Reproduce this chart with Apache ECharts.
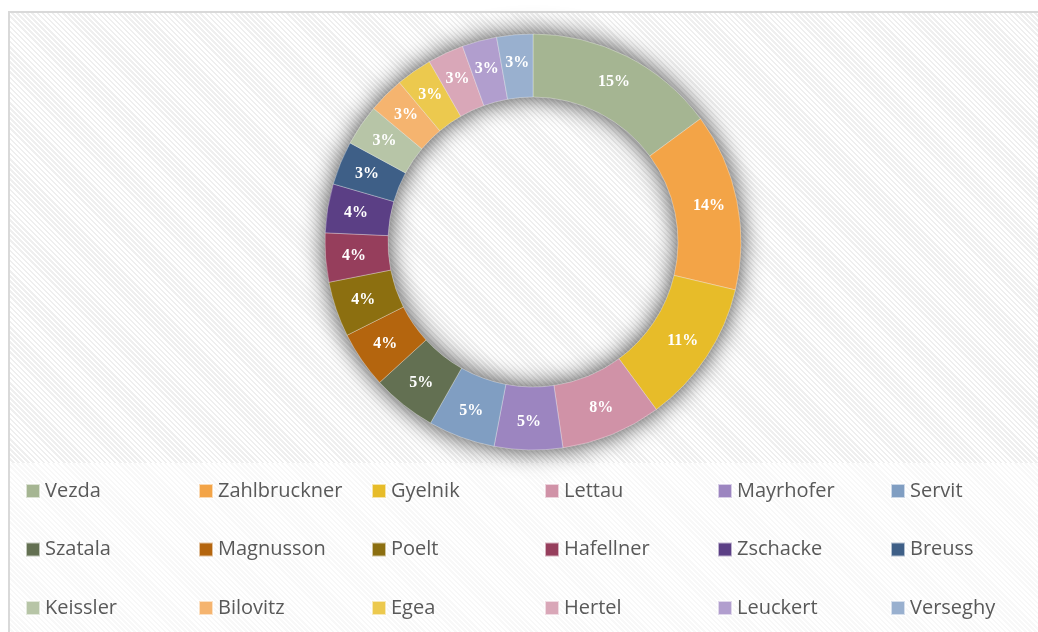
<!DOCTYPE html>
<html lang="en">

<head>
    <meta charset="UTF-8">
    <title>Donut Chart</title>
    <script src="https://cdn.jsdelivr.net/npm/echarts@6/dist/echarts.min.js"></script>
    <style>
        html, body { margin: 0; padding: 0; background: #fff; }
        #wrap { position: relative; width: 1038px; height: 632px; overflow: hidden; }
        #frame {
            position: absolute; left: 8px; top: 11px; width: 1040px; height: 640px;
            border: 2px solid #d9d9d9; box-sizing: border-box;
        }
        #plotBg {
            position: absolute; left: 10px; top: 13px; width: 1030px; height: 450px;
            background: repeating-linear-gradient(45deg, #ffffff 0px, #ffffff 1.8px, #efefef 1.8px, #efefef 3.6px);
        }
        #legendBg {
            position: absolute; left: 10px; top: 463px; width: 1030px; height: 170px;
            background: repeating-linear-gradient(45deg, #ffffff 0px, #ffffff 1.8px, #f8f8f8 1.8px, #f8f8f8 3.6px);
        }
        #chart { position: absolute; left: 0; top: 0; width: 1038px; height: 632px; }
    </style>
</head>

<body>
    <div id="wrap">
        <div id="frame"></div>
        <div id="plotBg"></div>
        <div id="legendBg"></div>
        <div id="chart"></div>
    </div>
    <script>
        // data
        const names = ['Vezda', 'Zahlbruckner', 'Gyelnik', 'Lettau', 'Mayrhofer', 'Servit',
            'Szatala', 'Magnusson', 'Poelt', 'Hafellner', 'Zschacke', 'Breuss',
            'Keissler', 'Bilovitz', 'Egea', 'Hertel', 'Leuckert', 'Verseghy'];
        const values = [14.9, 13.8, 11.2, 7.8, 5.3, 5.2,
            5.0, 4.4, 4.3, 3.8, 3.8, 3.4,
            3.2, 2.8, 2.8, 2.8, 2.7, 2.8];

        const palette = ['#a5b592', '#f3a447', '#e7bc29', '#d092a7', '#9c85c0', '#809ec2',
            '#637052', '#b4650e', '#8c6f10', '#963e5c', '#5b3f85', '#3e5f87',
            '#b7c5a7', '#f5b46f', '#ecc94e', '#d9a7b8', '#b19ece', '#99b0cf'];

        let myChart = echarts.init(document.getElementById('chart'));

        // legend: 6 columns, 3 rows
        let legends = [];
        for (let c = 0; c < 6; c++) {
            legends.push({
                orient: 'vertical',
                left: 25 + c * 173,
                top: 479,
                padding: 0,
                itemWidth: 14,
                itemHeight: 14,
                itemGap: 34.5,
                icon: 'rect',
                selectedMode: false,
                data: [names[c], names[c + 6], names[c + 12]],
                textStyle: {
                    fontFamily: 'Open Sans',
                    fontSize: 20,
                    lineHeight: 24,
                    color: '#595959'
                }
            });
        }

        let total = values.reduce((a, b) => a + b, 0);

        let option = {
            animation: false,
            color: palette,
            legend: legends,
            series: [
                {
                    // soft shadow ring behind the slices
                    type: 'pie',
                    silent: true,
                    center: [533, 242],
                    radius: [145, 208],
                    z: 1,
                    label: { show: false },
                    labelLine: { show: false },
                    emphasis: { disabled: true },
                    data: [{
                        name: 'shadow', value: total,
                        itemStyle: {
                            color: '#aaaaaa',
                            shadowBlur: 24,
                            shadowOffsetX: 0,
                            shadowOffsetY: 0,
                            shadowColor: 'rgba(0,0,0,0.75)'
                        }
                    }]
                },
                {
                    type: 'pie',
                    center: [533, 242],
                    radius: [145, 208],
                    startAngle: 90,
                    clockwise: true,
                    z: 2,
                    itemStyle: {
                        borderColor: 'rgba(255,255,255,0.6)',
                        borderWidth: 0.5
                    },
                    label: {
                        show: true,
                        position: 'inside',
                        formatter: p => Math.round(p.percent) + '%',
                        color: '#fff',
                        fontFamily: 'Liberation Serif',
                        fontWeight: 'bold',
                        fontSize: 16
                    },
                    labelLine: { show: false },
                    data: names.map((n, i) => ({ name: n, value: values[i] }))
                }
            ]
        };

        myChart.setOption(option);
    </script>
</body>

</html>
